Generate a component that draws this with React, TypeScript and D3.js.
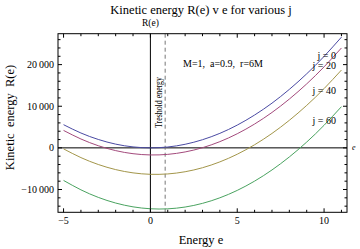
import React from "react";
import * as d3 from "d3";

const energies = [-5, -4, -3, -2, -1, 0, 1, 2, 3, 4, 5, 6, 7, 8, 9, 10, 11];
const seriesJ0 = [5570, 3570, 2020, 900, 230, 0, 210, 860, 1960, 3490, 5470, 7890, 10740, 14050, 17790, 21970, 26600];
const seriesJ20 = [4190, 2134, 517, -660, -1399, -1698, -1558, -979, 40, 1497, 3394, 5730, 8505, 11720, 15373, 19466, 23998];
const seriesJ40 = [-240, -2338, -3997, -5219, -6003, -6351, -6261, -5733, -4769, -3366, -1526, 750, 3465, 6617, 10207, 14233, 18697];
const seriesJ60 = [-7819, -10079, -11890, -13252, -14165, -14629, -14644, -14210, -13327, -11995, -10214, -7984, -5305, -2177, 1400, 5426, 9901];
const seriesLabels = ["j = 0", "j = 20", "j = 40", "j = 60"];
const seriesColors = ["#4a4aa3", "#a34a7c", "#a3964a", "#4aa360"];
const xMajorTicks = [-5, 0, 5, 10];
const yMajorTicks = [-10000, 0, 10000, 20000];
const thresholdEnergy = 0.85;

const font = "'Liberation Serif', 'Times New Roman', serif";

export default function App() {
  const L = 58, R = 347, T = 33.7, B = 212.3;
  const x = d3.scaleLinear().domain([-5.32, 11.32]).range([L, R]);
  const y = d3.scaleLinear().domain([-15475, 27425]).range([B, T]);
  const allSeries = [seriesJ0, seriesJ20, seriesJ40, seriesJ60];
  const line = d3
    .line<number>()
    .x((_, i) => x(energies[i]))
    .y((d) => y(d))
    .curve(d3.curveNatural);

  const xMinor = d3.range(-5, 12, 1).filter((v) => !xMajorTicks.includes(v));
  const yMinor = d3.range(-14000, 27000, 2000).filter((v) => !yMajorTicks.includes(v));
  const fmt = (v: number) => (v < 0 ? "\u2212" : "") + Math.abs(v).toString().replace(/(\d)(\d{3})$/, "$1\u2009$2");

  const labelPos = [55, 65, 90, 120];

  return (
    <svg width={360} height={249} style={{ position: "absolute", left: 0, top: 0, background: "#fff" }} fontFamily={font}>
      <text x={201} y={14} textAnchor="middle" fontSize={12.5}>Kinetic energy R(e) v e for various j</text>
      <text x={x(0)} y={26} textAnchor="middle" fontSize={9.5}>R(e)</text>
      <defs>
        <clipPath id="plotclip">
          <rect x={L} y={T} width={R - L} height={B - T} />
        </clipPath>
      </defs>
      {/* axes */}
      <line x1={L} x2={R} y1={y(0)} y2={y(0)} stroke="#000" strokeWidth={1} />
      <line x1={x(0)} x2={x(0)} y1={T} y2={B} stroke="#000" strokeWidth={1} />
      <text x={352} y={150} fontSize={8} fontStyle="italic">e</text>
      {/* threshold */}
      <line x1={x(thresholdEnergy)} x2={x(thresholdEnergy)} y1={T} y2={B} stroke="#777" strokeWidth={1} strokeDasharray="4,3" />
      <text transform={`translate(${x(thresholdEnergy) - 3},${128}) rotate(-90)`} fontSize={9.5} textLength={51} lengthAdjust="spacingAndGlyphs">Treshold energy</text>
      {/* curves */}
      <g clipPath="url(#plotclip)">
        {allSeries.map((s, i) => (
          <path key={i} d={line(s) || ""} fill="none" stroke={seriesColors[i]} strokeWidth={1} />
        ))}
      </g>
      {seriesLabels.map((lab, i) => (
        <text key={lab} x={336} y={labelPos[i] + 3.5} textAnchor="end" fontSize={10}>{lab}</text>
      ))}
      <text x={183} y={67} fontSize={10} style={{ whiteSpace: "pre" }}>{"M=1,\u00a0 a=0.9,\u00a0 r=6M"}</text>
      {/* frame */}
      <rect x={L} y={T} width={R - L} height={B - T} fill="none" stroke="#000" strokeWidth={1} />
      {xMajorTicks.map((v) => (
        <g key={"xm" + v}>
          <line x1={x(v)} x2={x(v)} y1={B} y2={B - 4} stroke="#000" />
          <line x1={x(v)} x2={x(v)} y1={T} y2={T + 4} stroke="#000" />
          <text x={x(v)} y={224} textAnchor="middle" fontSize={10}>{fmt(v)}</text>
        </g>
      ))}
      {xMinor.map((v) => (
        <g key={"xn" + v}>
          <line x1={x(v)} x2={x(v)} y1={B} y2={B - 2.5} stroke="#000" />
          <line x1={x(v)} x2={x(v)} y1={T} y2={T + 2.5} stroke="#000" />
        </g>
      ))}
      {yMajorTicks.map((v) => (
        <g key={"ym" + v}>
          <line x1={L} x2={L + 4} y1={y(v)} y2={y(v)} stroke="#000" />
          <line x1={R} x2={R - 4} y1={y(v)} y2={y(v)} stroke="#000" />
          <text x={54} y={y(v) + 3.5} textAnchor="end" fontSize={10}>{fmt(v)}</text>
        </g>
      ))}
      {yMinor.map((v) => (
        <g key={"yn" + v}>
          <line x1={L} x2={L + 2.5} y1={y(v)} y2={y(v)} stroke="#000" />
          <line x1={R} x2={R - 2.5} y1={y(v)} y2={y(v)} stroke="#000" />
        </g>
      ))}
      <text transform={`translate(14,117.5) rotate(-90)`} textAnchor="middle" fontSize={12.5}>{"Kinetic\u00a0 energy\u00a0 R(e)"}</text>
      <text x={201} y={244} textAnchor="middle" fontSize={12.5}>Energy e</text>
    </svg>
  );
}
